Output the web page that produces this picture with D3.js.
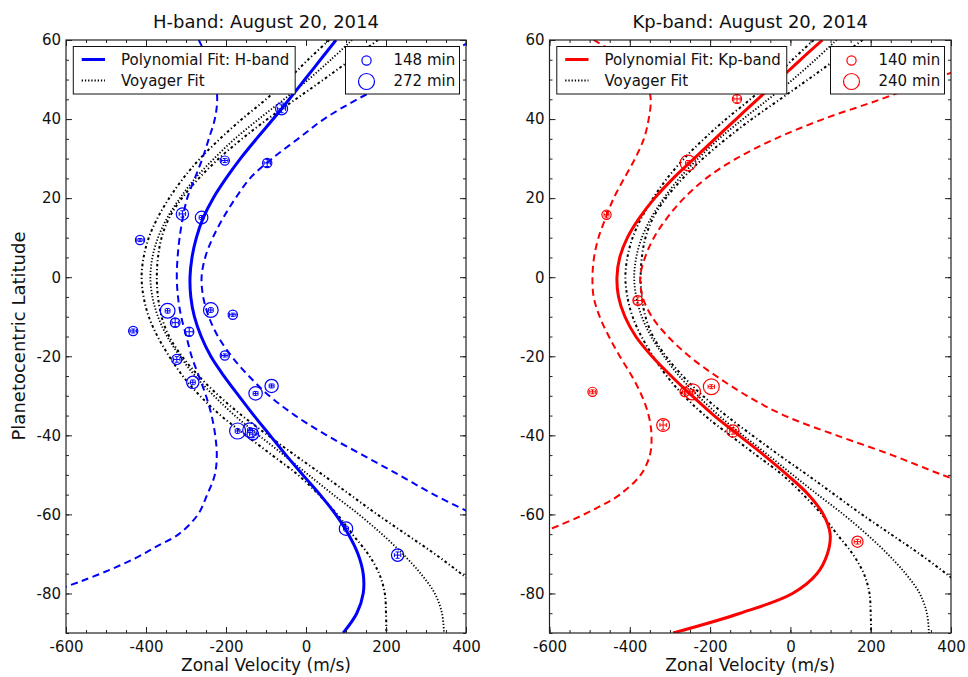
<!DOCTYPE html>
<html>
<head>
<meta charset="utf-8">
<script src="https://cdn.jsdelivr.net/npm/d3@7"></script>
<style>
  body { margin: 0; background: #fff; }
  svg { display: block; font-family: "DejaVu Sans", sans-serif; }
</style>
</head>
<body>
<svg id="chart" width="968" height="677"></svg>
<script>
// latitude grid the fitted curves are read on
const LAT_GRID = [60, 55, 50, 45, 40, 35, 30, 25, 20, 15, 10, 5, 0, -5, -10, -15, -20, -25, -30, -35, -40, -45, -50, -55, -60, -65, -70, -75, -80, -85, -90];

// Voyager fit (dotted) and its two dash-dot bounds
const VOYAGER_FIT = [115, 62, 6, -55, -118, -178, -230, -277, -315, -347, -370, -384, -389, -384, -370, -347, -315, -277, -230, -178, -118, -55, 6, 68, 132, 190, 242, 287, 322, 340, 345];
const VOYAGER_LOW = [58, 5, -45, -100, -160, -215, -265, -307, -342, -371, -393, -406, -411, -406, -393, -371, -342, -308, -265, -213, -150, -85, -20, 32, 78, 116, 155, 183, 197, 200, 201];
const VOYAGER_HIGH_LAT = [60, 55, 50, 45, 40, 35, 30, 25, 20, 15, 10, 5, 0, -5, -10, -15, -20, -25, -30, -35, -40, -45, -50, -55, -60, -65, -70, -75, -80];
const VOYAGER_HIGH = [180, 112, 44, -26, -96, -160, -218, -268, -310, -342, -361, -370, -373, -370, -361, -342, -310, -268, -218, -160, -95, -28, 42, 110, 178, 250, 322, 388, 450];

// H-band polynomial fit + bounds
const H_FIT = [75, 36, -3, -42, -82, -124, -164, -200, -232, -257, -274, -285, -290, -288, -279, -262, -238, -205, -168, -130, -90, -50, -8, 35, 74, 106, 130, 143, 143, 127, 93];
const H_UPPER_LAT = [62, 60, 55, 50, 45, 40, 35, 30, 25, 20, 15, 10, 5, 0, -5, -10, -15, -20, -25, -30, -35, -40, -45, -50, -55, -60];
const H_UPPER = [460, 420, 320, 225, 128, 45, -20, -85, -140, -176, -207, -233, -252, -261, -257, -243, -220, -186, -143, -92, -27, 52, 142, 232, 320, 420];
const H_LOWER_LAT = [60, 55, 50, 45, 40, 35, 30, 25, 20, 15, 10, 5, 0, -5, -10, -15, -20, -25, -30, -35, -40, -45, -50, -55, -60, -65, -68, -71, -74, -77, -79];
const H_LOWER = [-268, -245, -228, -222, -228, -243, -259, -278, -297, -308, -316, -321, -323, -320, -312, -299, -286, -268, -250, -236, -227, -223, -228, -247, -270, -318, -372, -425, -490, -565, -620];

// H-band measurements
const H_VEL = [-61, -203, -97, -309, -261, -415, -346, -238, -183, -327, -432, -292, -203, -323, -283, -126, -86, -171, -140, -133, 100, 229];
const H_LAT = [42.6, 29.5, 28.9, 16.0, 15.1, 9.4, -8.5, -8.3, -9.5, -11.5, -13.6, -13.8, -19.8, -20.8, -26.6, -29.4, -27.5, -38.9, -38.7, -39.7, -63.6, -70.3];
const H_MIN = [200, 148, 150, 205, 210, 148, 250, 248, 150, 155, 148, 150, 148, 165, 205, 225, 222, 272, 245, 190, 225, 205];
const H_VEL_ERR = [10, 8, 8, 8, 6, 8, 6, 6, 8, 8, 8, 10, 8, 8, 6, 6, 6, 6, 6, 8, 6, 8];
const H_LAT_ERR = [1.0, 0.5, 0.9, 0.8, 0.5, 0.4, 0.6, 0.6, 0.4, 1.0, 0.5, 1.0, 0.4, 0.7, 0.6, 0.5, 0.5, 0.6, 0.6, 0.9, 0.6, 0.8];
const H_LEGEND_MIN = [148, 272];

// Kp-band polynomial fit + bounds
const K_FIT = [80, 25, -28, -82, -135, -188, -240, -292, -338, -376, -406, -425, -432, -428, -412, -385, -345, -297, -245, -190, -128, -66, -8, 45, 82, 99, 92, 66, 5, -125, -292];
const K_UPPER_LAT = [54, 50, 45, 40, 35, 30, 25, 20, 15, 10, 5, 0, -5, -10, -15, -20, -25, -30, -35, -40, -45, -50, -53];
const K_UPPER = [460, 355, 225, 82, -38, -135, -210, -265, -307, -340, -362, -374, -368, -345, -305, -252, -185, -108, -15, 115, 253, 378, 460];
const K_LOWER_LAT = [60, 57, 54, 50, 45, 40, 35, 30, 25, 20, 15, 10, 5, 0, -5, -10, -15, -20, -25, -30, -35, -40, -45, -50, -55, -58, -61, -64];
const K_LOWER = [-490, -440, -395, -360, -348, -353, -365, -387, -414, -440, -460, -478, -489, -493, -490, -475, -452, -425, -395, -370, -353, -346, -350, -373, -425, -475, -535, -605];

// Kp-band measurements
const K_VEL = [-133, -255, -458, -380, -493, -317, -263, -244, -197, -143, 167];
const K_LAT = [45.1, 28.9, 15.8, -5.9, -29.0, -37.4, -29.0, -29.0, -27.7, -38.9, -66.9];
const K_MIN = [140, 235, 140, 150, 140, 195, 145, 240, 238, 185, 170];
const K_VEL_ERR = [8, 6, 6, 10, 8, 8, 6, 6, 8, 8, 8];
const K_LAT_ERR = [1.0, 0.6, 0.8, 0.9, 0.5, 1.2, 0.6, 0.6, 0.5, 0.8, 0.6];
const K_LEGEND_MIN = [140, 240];

const X_TICKS = [-600, -400, -200, 0, 200, 400];
const Y_TICKS = [-80, -60, -40, -20, 0, 20, 40, 60];

const PANELS = [
  {
    left: 66, right: 466, color: '#0000ff',
    title: 'H-band: August 20, 2014', fitLabel: 'Polynomial Fit: H-band',
    fit: H_FIT, upper: [H_UPPER_LAT, H_UPPER], lower: [H_LOWER_LAT, H_LOWER],
    vel: H_VEL, lat: H_LAT, mins: H_MIN, velErr: H_VEL_ERR, latErr: H_LAT_ERR,
    legendMin: H_LEGEND_MIN, showYLabel: true
  },
  {
    left: 549.5, right: 951, color: '#ff0000',
    title: 'Kp-band: August 20, 2014', fitLabel: 'Polynomial Fit: Kp-band',
    fit: K_FIT, upper: [K_UPPER_LAT, K_UPPER], lower: [K_LOWER_LAT, K_LOWER],
    vel: K_VEL, lat: K_LAT, mins: K_MIN, velErr: K_VEL_ERR, latErr: K_LAT_ERR,
    legendMin: K_LEGEND_MIN, showYLabel: false
  }
];

const TOP = 40, BOTTOM = 633;
const INK = '#111';
const DOTTED = '1.3,1.9';
const DASH_DOT = '2.6,2.6,1.2,2.6';
const svg = d3.select('#chart');
const y = d3.scaleLinear().domain([-90, 60]).range([BOTTOM, TOP]);

const pairs = (lats, vals) => lats.map((l, i) => [vals[i], l]);

function styleAxis(sel) {
  sel.attr('font-family', '"DejaVu Sans", sans-serif')
    .attr('font-size', 15)
    .style('color', INK);
  sel.select('.domain').remove();
  sel.selectAll('line').attr('stroke', '#222').attr('stroke-width', 1);
}

function drawPanel(p, idx) {
  const x = d3.scaleLinear().domain([-600, 400]).range([p.left, p.right]);
  const r = d3.scaleLinear().domain(p.legendMin).range([4.6, 8]);
  const line = d3.line().x(d => x(d[0])).y(d => y(d[1])).curve(d3.curveCatmullRom.alpha(0.5));

  const clipId = 'plot-clip-' + idx;
  svg.append('clipPath').attr('id', clipId)
    .append('rect')
    .attr('x', p.left).attr('y', TOP)
    .attr('width', p.right - p.left).attr('height', BOTTOM - TOP);

  const g = svg.append('g');
  const plot = g.append('g').attr('clip-path', `url(#${clipId})`);

  // Voyager bounds (dash-dot) and fit (dotted)
  [pairs(LAT_GRID, VOYAGER_LOW), pairs(VOYAGER_HIGH_LAT, VOYAGER_HIGH)].forEach(d => {
    plot.append('path').datum(d)
      .attr('d', line)
      .attr('fill', 'none')
      .attr('stroke', '#000')
      .attr('stroke-width', 2)
      .attr('stroke-dasharray', DASH_DOT);
  });
  plot.append('path').datum(pairs(LAT_GRID, VOYAGER_FIT))
    .attr('d', line)
    .attr('fill', 'none')
    .attr('stroke', '#000')
    .attr('stroke-width', 1.8)
    .attr('stroke-dasharray', DOTTED);

  // polynomial bounds + fit
  [p.upper, p.lower].forEach(b => {
    plot.append('path').datum(pairs(b[0], b[1]))
      .attr('d', line)
      .attr('fill', 'none')
      .attr('stroke', p.color)
      .attr('stroke-width', 2)
      .attr('stroke-dasharray', '7,4.5');
  });
  plot.append('path').datum(pairs(LAT_GRID, p.fit))
    .attr('d', line)
    .attr('fill', 'none')
    .attr('stroke', p.color)
    .attr('stroke-width', 3);

  // measurements: circle sized by minutes, plus error bars
  p.vel.forEach((v, i) => {
    const cx = x(v), cy = y(p.lat[i]);
    const pt = plot.append('g').attr('stroke', p.color).attr('fill', 'none');
    pt.append('circle').attr('cx', cx).attr('cy', cy).attr('r', r(p.mins[i])).attr('stroke-width', 1.2);
    const x0 = x(v - p.velErr[i]), x1 = x(v + p.velErr[i]);
    const y0 = y(p.lat[i] - p.latErr[i]), y1 = y(p.lat[i] + p.latErr[i]);
    pt.append('line').attr('x1', x0).attr('x2', x1).attr('y1', cy).attr('y2', cy).attr('stroke-width', 1);
    pt.append('line').attr('x1', cx).attr('x2', cx).attr('y1', y0).attr('y2', y1).attr('stroke-width', 1);
    [x0, x1].forEach(xx => pt.append('line').attr('x1', xx).attr('x2', xx).attr('y1', cy - 2).attr('y2', cy + 2).attr('stroke-width', 1));
    [y0, y1].forEach(yy => pt.append('line').attr('x1', cx - 2).attr('x2', cx + 2).attr('y1', yy).attr('y2', yy).attr('stroke-width', 1));
  });

  // frame
  g.append('rect')
    .attr('x', p.left).attr('y', TOP)
    .attr('width', p.right - p.left).attr('height', BOTTOM - TOP)
    .attr('fill', 'none').attr('stroke', '#222').attr('stroke-width', 1.2);

  const xMinor = d3.range(-600, 401, 50);
  const yMinor = d3.range(-90, 61, 5);

  // ticks point inwards on all four sides
  g.append('g').attr('transform', `translate(0,${BOTTOM})`)
    .call(d3.axisBottom(x).tickValues(X_TICKS).tickSizeInner(-6).tickSizeOuter(0).tickPadding(8).tickFormat(d => String(d)))
    .call(styleAxis);
  g.append('g').attr('transform', `translate(0,${BOTTOM})`)
    .call(d3.axisBottom(x).tickValues(xMinor).tickSizeInner(-3).tickSizeOuter(0).tickFormat(''))
    .call(styleAxis);
  g.append('g').attr('transform', `translate(0,${TOP})`)
    .call(d3.axisTop(x).tickValues(X_TICKS).tickSizeInner(-6).tickSizeOuter(0).tickFormat(''))
    .call(styleAxis);
  g.append('g').attr('transform', `translate(0,${TOP})`)
    .call(d3.axisTop(x).tickValues(xMinor).tickSizeInner(-3).tickSizeOuter(0).tickFormat(''))
    .call(styleAxis);
  g.append('g').attr('transform', `translate(${p.left},0)`)
    .call(d3.axisLeft(y).tickValues(Y_TICKS).tickSizeInner(-6).tickSizeOuter(0).tickPadding(5).tickFormat(d => String(d)))
    .call(styleAxis);
  g.append('g').attr('transform', `translate(${p.left},0)`)
    .call(d3.axisLeft(y).tickValues(yMinor).tickSizeInner(-3).tickSizeOuter(0).tickFormat(''))
    .call(styleAxis);
  g.append('g').attr('transform', `translate(${p.right},0)`)
    .call(d3.axisRight(y).tickValues(Y_TICKS).tickSizeInner(-6).tickSizeOuter(0).tickFormat(''))
    .call(styleAxis);
  g.append('g').attr('transform', `translate(${p.right},0)`)
    .call(d3.axisRight(y).tickValues(yMinor).tickSizeInner(-3).tickSizeOuter(0).tickFormat(''))
    .call(styleAxis);

  const cx = (p.left + p.right) / 2;
  g.append('text')
    .attr('x', cx).attr('y', 28)
    .attr('text-anchor', 'middle')
    .attr('font-size', 18).attr('fill', INK)
    .text(p.title);
  g.append('text')
    .attr('x', cx).attr('y', 671)
    .attr('text-anchor', 'middle')
    .attr('font-size', 17).attr('fill', INK)
    .text('Zonal Velocity (m/s)');
  if (p.showYLabel) {
    g.append('text')
      .attr('transform', 'translate(25,336) rotate(-90)')
      .attr('text-anchor', 'middle')
      .attr('font-size', 18).attr('fill', INK)
      .text('Planetocentric Latitude');
  }

  // legend: line styles
  const lg = g.append('g');
  const lx = p.left + 7.3, ly = 46.5;
  const box = lg.append('rect')
    .attr('x', lx).attr('y', ly).attr('height', 47.5)
    .attr('fill', '#fff').attr('stroke', '#111').attr('stroke-width', 1);
  lg.append('line')
    .attr('x1', p.left + 15.7).attr('x2', p.left + 39).attr('y1', 59.5).attr('y2', 59.5)
    .attr('stroke', p.color).attr('stroke-width', 3);
  lg.append('line')
    .attr('x1', p.left + 15.7).attr('x2', p.left + 39).attr('y1', 80.5).attr('y2', 80.5)
    .attr('stroke', '#000').attr('stroke-width', 1.8).attr('stroke-dasharray', DOTTED);
  const t1 = lg.append('text').attr('x', p.left + 55).attr('y', 65)
    .attr('font-size', 15).attr('fill', INK).text(p.fitLabel);
  lg.append('text').attr('x', p.left + 55).attr('y', 86)
    .attr('font-size', 15).attr('fill', INK).text('Voyager Fit');
  box.attr('width', p.left + 55 + t1.node().getComputedTextLength() + 6 - lx);

  // legend: marker sizes
  const sx = p.right - 6.5 - 114;
  const sg = g.append('g');
  sg.append('rect')
    .attr('x', sx).attr('y', ly).attr('width', 114).attr('height', 47.5)
    .attr('fill', '#fff').attr('stroke', '#111').attr('stroke-width', 1);
  p.legendMin.forEach((m, i) => {
    sg.append('circle')
      .attr('cx', sx + 21).attr('cy', 60.5 + i * 21).attr('r', r(m))
      .attr('fill', 'none').attr('stroke', p.color).attr('stroke-width', 1.2);
    sg.append('text')
      .attr('x', sx + 48).attr('y', 65 + i * 21)
      .attr('font-size', 15).attr('fill', INK)
      .text(`${m} min`);
  });
}

PANELS.forEach(drawPanel);
</script>
</body>
</html>
